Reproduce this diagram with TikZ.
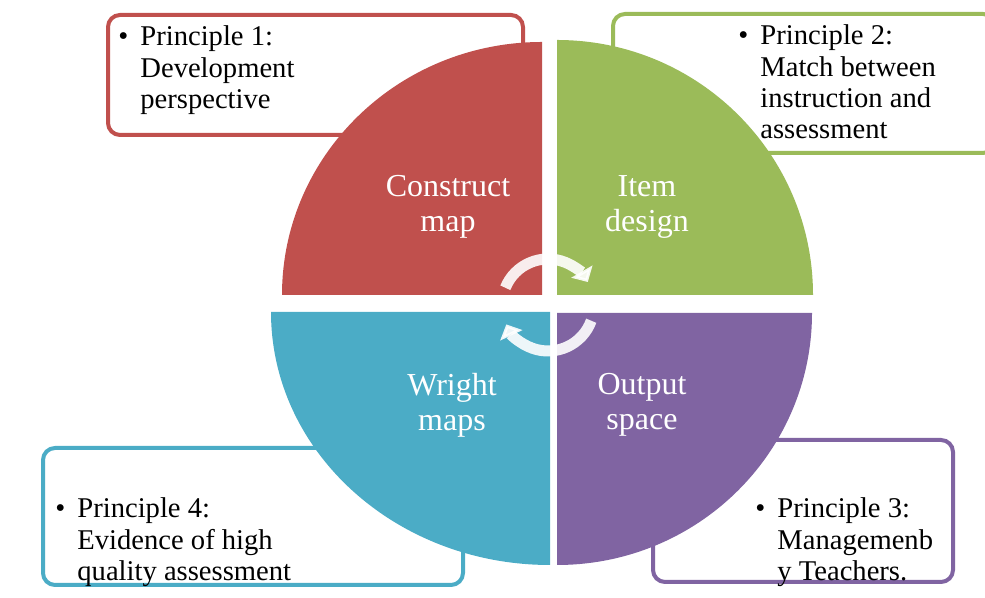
\documentclass[tikz,border=0pt]{standalone}
\usepackage{fontspec}
\setmainfont{Liberation Serif}
\usetikzlibrary{arrows.meta}

\definecolor{redq}{HTML}{C0504D}
\definecolor{greenq}{HTML}{9BBB59}
\definecolor{tealq}{HTML}{4BACC6}
\definecolor{purpleq}{HTML}{8064A2}

\begin{document}
\begin{tikzpicture}[x=0.5pt,y=0.5pt,
        notebox/.style={line width=2pt,rounded corners=6pt,fill=white},
        notetext/.style={anchor=base west,inner sep=0pt,font=\fontsize{14.3}{15.6}\selectfont},
        quadlabel/.style={align=center,inner sep=0pt,text=white,font=\fontsize{16}{17.5}\selectfont},
        cyclearc/.style={white,line width=5.5pt,opacity=0.9,-{Triangle[width=12pt,length=6pt]}}]
            \useasboundingbox (0,0) rectangle (985,598);

            \draw[notebox,draw=redq] (108,463) rectangle (523,583);
            \draw[notebox,draw=greenq] (613,445) rectangle (995,584);
            \draw[notebox,draw=tealq] (43,13) rectangle (463,150);
            \draw[notebox,draw=purpleq] (653,16) rectangle (953,158);

            \node[notetext] (Principle1) at (140,552) {\begin{tabular}[t]{@{}l@{}}\llap{\textbullet\hspace{6pt}}Principle 1:\\Development\\perspective\end{tabular}};
            \node[notetext] (Principle2) at (760,553) {\begin{tabular}[t]{@{}l@{}}\llap{\textbullet\hspace{6pt}}Principle 2:\\Match between\\instruction and\\assessment\end{tabular}};
            \node[notetext] (Principle3) at (777,80) {\begin{tabular}[t]{@{}l@{}}\llap{\textbullet\hspace{6pt}}Principle 3:\\Managemenb\\y Teachers.\end{tabular}};
            \node[notetext] (Principle4) at (77,80) {\begin{tabular}[t]{@{}l@{}}\llap{\textbullet\hspace{6pt}}Principle 4:\\Evidence of high\\quality assessment\end{tabular}};

            \fill[redq] (542,303) -- ++(-260,0) arc (180:90:260 and 253) -- cycle;
            \fill[greenq] (557,303) -- ++(0,255) arc (90:0:256 and 255) -- cycle;
            \fill[tealq] (550,286) -- ++(-279,0) arc (180:270:279 and 253) -- cycle;
            \fill[purpleq] (557,285) -- ++(255,0) arc (0:-90:255 and 252) -- cycle;

            \node[quadlabel] (Construct) at (448,391) {Construct\\map};
            \node[quadlabel] (Item) at (647,391) {Item\\design};
            \node[quadlabel] (Wright) at (452,193) {Wright\\maps};
            \node[quadlabel] (Output) at (642,193) {Output\\space};

            \coordinate (hub) at (548,293);
            \draw[cyclearc] ([shift={(158:46)}]hub) arc (158:30:46);
            \draw[cyclearc] ([shift={(340:46)}]hub) arc (340:205:46);
\end{tikzpicture}
\end{document}
